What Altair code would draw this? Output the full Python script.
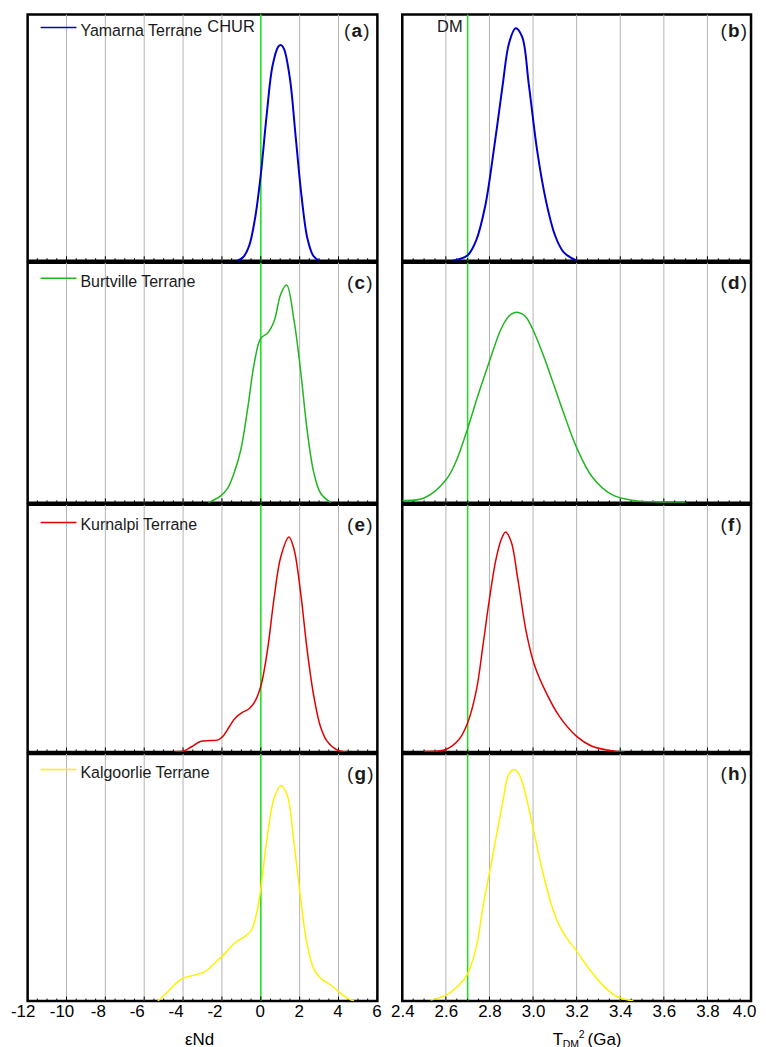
import altair as alt
import pandas as pd

FONT = "Liberation Sans"
GREEN_REF = "#19e619"

# ---------------- axis ticks ----------------
END_MAJOR = [-12, -10, -8, -6, -4, -2, 0, 2, 4, 6]
END_MINOR = [-11.5, -11, -10.5, -9.5, -9, -8.5, -7.5, -7, -6.5, -5.5, -5, -4.5,
             -3.5, -3, -2.5, -1.5, -1, -0.5, 0.5, 1, 1.5, 2.5, 3, 3.5, 4.5, 5, 5.5]
TDM_MAJOR = [2.4, 2.6, 2.8, 3.0, 3.2, 3.4, 3.6, 3.8, 4.0]
TDM_MINOR = [2.45, 2.5, 2.55, 2.65, 2.7, 2.75, 2.85, 2.9, 2.95, 3.05, 3.1, 3.15,
             3.25, 3.3, 3.35, 3.45, 3.5, 3.55, 3.65, 3.7, 3.75, 3.85, 3.9, 3.95]

TERRANES = ["Yamarna Terrane", "Burtville Terrane", "Kurnalpi Terrane", "Kalgoorlie Terrane"]
COLORS = ["#0000cc", "#22b422", "#e00000", "#fff000"]
LINE_W = [2.0, 1.5, 1.5, 1.5]
LETTERS = [("a", "b"), ("c", "d"), ("e", "f"), ("g", "h")]
ROW_H = [247, 241, 248, 248]
BORDER_W = 2.5

# ---------------- density curves (relative height) ----------------
# Yamarna
YAM_END_X = [-1.2, -0.9, -0.6, -0.3, 0.0, 0.3, 0.6, 0.9, 1.05, 1.2, 1.5, 1.8, 2.1, 2.4, 2.7, 3.0]
YAM_END_Y = [0.0, 0.015, 0.06, 0.17, 0.35, 0.59, 0.79, 0.87, 0.876, 0.86, 0.74, 0.50, 0.26, 0.09, 0.02, 0.0]
YAM_TDM_X = [2.63, 2.66, 2.70, 2.74, 2.78, 2.82, 2.86, 2.89, 2.92, 2.95, 2.98, 3.02, 3.06, 3.10, 3.14, 3.20]
YAM_TDM_Y = [0.0, 0.006, 0.022, 0.085, 0.22, 0.45, 0.71, 0.885, 0.945, 0.91, 0.72, 0.44, 0.24, 0.105, 0.035, 0.0]
# Burtville
BUR_END_X = [-2.7, -2.05, -1.71, -1.37, -1.03, -0.68, -0.34, 0.0, 0.34, 0.68, 1.03, 1.33,
             1.71, 2.05, 2.39, 2.73, 3.08, 3.6]
BUR_END_Y = [0.0, 0.03, 0.06, 0.125, 0.22, 0.39, 0.58, 0.686, 0.706, 0.755, 0.87, 0.907,
             0.76, 0.55, 0.30, 0.125, 0.04, 0.0]
BUR_TDM_X = [2.4, 2.5, 2.6, 2.65, 2.70, 2.75, 2.80, 2.85, 2.88, 2.90, 2.926, 2.95, 2.97, 3.0,
             3.045, 3.09, 3.144, 3.2, 3.27, 3.36, 3.46, 3.6, 3.7]
BUR_TDM_Y = [0.01, 0.02, 0.095, 0.18, 0.31, 0.455, 0.59, 0.718, 0.767, 0.786, 0.794, 0.787, 0.771,
             0.72, 0.62, 0.505, 0.365, 0.23, 0.11, 0.035, 0.01, 0.003, 0.0]
# Kurnalpi
KUR_END_X = [-4.45, -3.93, -3.59, -3.08, -2.6, -2.2, -1.9, -1.6, -1.3, -0.95, -0.6, -0.3, 0.0,
             0.34, 0.68, 1.03, 1.45, 1.71, 2.05, 2.39, 2.73, 3.08, 3.42, 3.93, 4.45]
KUR_END_Y = [0.0, 0.005, 0.02, 0.043, 0.046, 0.049, 0.068, 0.105, 0.138, 0.16, 0.175, 0.205, 0.266,
             0.41, 0.62, 0.79, 0.87, 0.82, 0.645, 0.41, 0.225, 0.10, 0.043, 0.008, 0.0]
KUR_TDM_X = [2.5, 2.6, 2.66, 2.70, 2.74, 2.77, 2.80, 2.83, 2.854, 2.874, 2.90, 2.93, 2.97,
             3.007, 3.06, 3.12, 3.2, 3.27, 3.36, 3.42]
KUR_TDM_Y = [0.002, 0.01, 0.05, 0.118, 0.25, 0.43, 0.62, 0.78, 0.86, 0.89, 0.85, 0.70, 0.48,
             0.35, 0.24, 0.145, 0.063, 0.023, 0.005, 0.0]
# Kalgoorlie
KAL_END_X = [-5.3, -4.79, -4.45, -4.02, -3.42, -2.9, -2.39, -1.88, -1.37, -0.85, -0.5, -0.2,
             0.0, 0.34, 0.68, 1.03, 1.37, 1.71, 2.05, 2.39, 2.73, 3.08, 3.59, 4.02, 4.44, 4.8]
KAL_END_Y = [0.0, 0.038, 0.065, 0.092, 0.105, 0.118, 0.152, 0.19, 0.233, 0.26, 0.285, 0.36,
             0.455, 0.67, 0.82, 0.872, 0.83, 0.64, 0.415, 0.226, 0.13, 0.092, 0.065, 0.038, 0.012, 0.0]
KAL_TDM_X = [2.53, 2.60, 2.66, 2.70, 2.74, 2.77, 2.80, 2.83, 2.86, 2.89, 2.915, 2.94, 2.97, 3.0,
             3.045, 3.09, 3.136, 3.197, 3.258, 3.32, 3.38, 3.46]
KAL_TDM_Y = [0.004, 0.024, 0.065, 0.11, 0.22, 0.38, 0.52, 0.66, 0.80, 0.92, 0.937, 0.91, 0.82,
             0.70, 0.52, 0.374, 0.28, 0.206, 0.13, 0.065, 0.02, 0.0]

END_DATA = [(YAM_END_X, YAM_END_Y), (BUR_END_X, BUR_END_Y), (KUR_END_X, KUR_END_Y), (KAL_END_X, KAL_END_Y)]
TDM_DATA = [(YAM_TDM_X, YAM_TDM_Y), (BUR_TDM_X, BUR_TDM_Y), (KUR_TDM_X, KUR_TDM_Y), (KAL_TDM_X, KAL_TDM_Y)]

# per-row annotation offsets (px from panel top)
LETTER_BASE = [22, 26, 26.5, 26.5]
LEG_LINE_Y = [13, 15.7, 17.6, 15.7]
LEG_TEXT_BASE = [21, 24, 25, 24.5]
BOLD_ADV = {"a": 10.6, "b": 11.6, "c": 10.6, "d": 11.6, "e": 10.6, "f": 6.3, "g": 11.6, "h": 11.6}


def panel(row, kind, bottom):
    h = ROW_H[row]
    color = COLORS[row]
    if kind == "end":
        xs, ys = END_DATA[row]
        dom, major, minor, w = [-12, 6], END_MAJOR, END_MINOR, 351
        ref, ref_label, ref_dx = 0, "CHUR", -6
        lab_expr = "'' + datum.value"
        lab_off = {"expr": "datum.value <= -10 ? -5 : (datum.value < 0 ? -7.5 : -1)"}
        letter = LETTERS[row][0]
        paren_x = w - (33.5 if row == 0 else 30.5)
    else:
        xs, ys = TDM_DATA[row]
        dom, major, minor, w = [2.4, 4.0], TDM_MAJOR, TDM_MINOR, 350
        ref, ref_label, ref_dx = 2.7, "DM", -5
        lab_expr = "format(datum.value, '.1f')"
        lab_off = {"expr": "datum.value >= 3.99 ? -7 : 0"}
        letter = LETTERS[row][1]
        paren_x = w - 30.6

    xsc = alt.Scale(domain=dom, nice=False, zero=False)
    ysc = alt.Scale(domain=[0, 1], nice=False, zero=False)
    if bottom:
        ax = alt.Axis(values=major, labelExpr=lab_expr, labelFontSize=17, labelFont=FONT,
                      labelColor="#000000", labelPadding=3, labelOffset=lab_off,
                      ticks=False, domain=False, grid=False, title=None,
                      labelFlush=False, labelOverlap=False)
    else:
        ax = None

    def X():
        return alt.X("x:Q", scale=xsc, axis=ax)

    grid = alt.Chart(pd.DataFrame({"x": major[1:-1]})).mark_rule(
        color="#b4b4b4", strokeWidth=1).encode(x=X())
    refline = alt.Chart(pd.DataFrame({"x": [ref]})).mark_rule(
        color=GREEN_REF, strokeWidth=1.5).encode(x=X())
    tmaj = alt.Chart(pd.DataFrame({"x": major})).mark_rule(
        color="black", strokeWidth=1).encode(x=X(), y=alt.value(h), y2=alt.value(h - 4.5))
    tmin = alt.Chart(pd.DataFrame({"x": minor})).mark_rule(
        color="black", strokeWidth=1).encode(x=X(), y=alt.value(h), y2=alt.value(h - 2.5))
    df = pd.DataFrame({"x": xs, "y": ys})
    line = alt.Chart(df).mark_line(color=color, strokeWidth=LINE_W[row],
                                   interpolate="catmull-rom", clip=True).encode(
        x=X(), y=alt.Y("y:Q", scale=ysc, axis=None))

    layers = [grid, refline, tmin, tmaj, line]

    if row == 0:
        layers.append(alt.Chart(pd.DataFrame({"x": [ref]})).mark_text(
            text=ref_label, align="right", baseline="alphabetic", dx=ref_dx,
            fontSize=16.5, font=FONT, color="#1a1a1a").encode(x=X(), y=alt.value(17.5)))

    if kind == "end":
        layers.append(alt.Chart(pd.DataFrame({"n": [TERRANES[row]]})).mark_rule(
            color=color, strokeWidth=1.5).encode(
            x=alt.value(13), x2=alt.value(49), y=alt.value(LEG_LINE_Y[row])))
        layers.append(alt.Chart(pd.DataFrame({"n": [TERRANES[row]]})).mark_text(
            align="left", baseline="alphabetic", fontSize=16, font=FONT, color="#1a1a1a").encode(
            x=alt.value(53), y=alt.value(LEG_TEXT_BASE[row]), text="n:N"))

    base = LETTER_BASE[row]
    lx = paren_x + 7.5
    rx = lx + BOLD_ADV[letter] + 1.2
    for txt, xx, wt in [("(", paren_x, "normal"), (letter, lx, "bold"), (")", rx, "normal")]:
        layers.append(alt.Chart(pd.DataFrame({"t": [txt]})).mark_text(
            align="left", baseline="alphabetic", fontSize=19, font=FONT,
            fontWeight=wt, color="#1a1a1a").encode(
            x=alt.value(xx), y=alt.value(base), text="t:N"))

    if bottom:
        if kind == "end":
            parts = [("\u03b5Nd", 172.5, h + 44, 17, "center")]
        else:
            parts = [("T", 151, h + 44, 17, "left"), ("DM", 161, h + 47, 10.5, "left"),
                     ("2", 177, h + 37.5, 10.5, "left"), ("(Ga)", 186, h + 44, 17, "left")]
        for txt, xx, yy, fs, al in parts:
            layers.append(alt.Chart(pd.DataFrame({"t": [txt]})).mark_text(
                align=al, baseline="alphabetic", fontSize=fs, font=FONT, color="#000000").encode(
                x=alt.value(xx), y=alt.value(yy), text="t:N"))

    return alt.layer(*layers).properties(width=w, height=h)


rows = []
for r in range(4):
    bottom = r == 3
    rows.append(alt.hconcat(panel(r, "end", bottom), panel(r, "tdm", bottom),
                            spacing=25, bounds="flush").resolve_scale(x="independent", y="independent"))

chart = alt.vconcat(*rows, spacing=-BORDER_W).resolve_scale(x="independent", y="independent").properties(
    padding={"left": 0.7, "top": 2.75, "right": 0, "bottom": 0}
).configure_view(stroke="black", strokeWidth=BORDER_W)

chart.save("out.html", embed_options={"renderer": "svg", "actions": False})
